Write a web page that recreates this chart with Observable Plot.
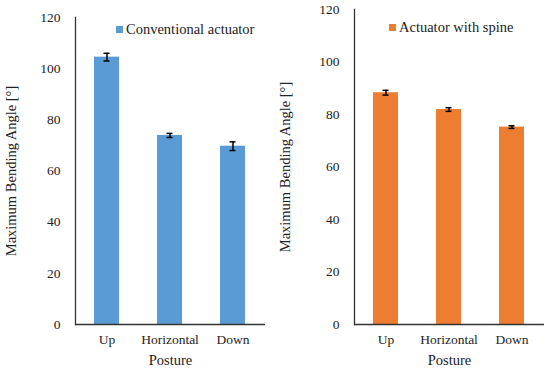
<!DOCTYPE html>
<html>
<head>
<meta charset="utf-8">
<script src="https://cdn.jsdelivr.net/npm/d3@7"></script>
<script src="https://cdn.jsdelivr.net/npm/@observablehq/plot@0.6"></script>
<style>
  body { margin: 0; background: #fff; }
  #wrap { position: relative; width: 550px; height: 370px; display: flex; font-family: "Liberation Serif", "Times New Roman", serif; }
  .panel { position: relative; width: 275px; height: 370px; }
  .panel svg, .panel svg text { font-family: "Liberation Serif", "Times New Roman", serif !important; }
  .legend { position: absolute; display: flex; align-items: center; font-size: 14.5px; color: #222; white-space: nowrap; }
  .legend .sw { display: inline-block; width: 7px; height: 7px; margin-right: 3px; }
</style>
</head>
<body>
<div id="wrap">
  <div class="panel" id="p1"></div>
  <div class="panel" id="p2"></div>
</div>
<script>
const postures = ["Up", "Horizontal", "Down"];
const conventionalMean = [104.5, 73.9, 69.7];
const conventionalErr = [1.5, 0.8, 1.7];
const spineMean = [88.3, 81.9, 75.2];
const spineErr = [0.9, 0.7, 0.5];
const seriesNames = ["Conventional actuator", "Actuator with spine"];
const seriesColors = ["#5B9BD5", "#ED7D31"];
const yTicks = [0, 20, 40, 60, 80, 100, 120];
const FONT = "Liberation Serif, Times New Roman, serif";

function panel(means, errs, color, opts) {
  const data = postures.map((p, i) => ({posture: p, value: means[i], lo: means[i] - errs[i], hi: means[i] + errs[i]}));
  return Plot.plot({
    width: 275,
    height: 370,
    marginLeft: opts.marginLeft,
    marginRight: opts.marginRight,
    marginTop: opts.marginTop,
    marginBottom: 46,
    style: {fontFamily: FONT, fontSize: "13px", color: "#222", background: "white"},
    x: {domain: postures, paddingInner: 0.6, paddingOuter: 0.3, label: null},
    y: {domain: [0, 120], label: null},
    marks: [
      Plot.axisX({tickSize: 0, tickPadding: 10, fontSize: 13.5, fontFamily: FONT, label: null}),
      Plot.axisX({ticks: [], tickSize: 0, fontSize: 14.5, fontFamily: FONT, label: "Posture", labelAnchor: "center", labelOffset: 40, labelArrow: "none"}),
      Plot.axisY({ticks: yTicks, tickSize: 0, tickPadding: 15, fontSize: 13.5, fontFamily: FONT, label: null}),
      Plot.axisY({ticks: [], tickSize: 0, fontSize: 14.5, fontFamily: FONT, label: "Maximum Bending Angle [°]", labelAnchor: "center", labelOffset: opts.labelOffset, labelArrow: "none"}),
      Plot.barY(data, {x: "posture", y: "value", fill: color}),
      Plot.ruleX(data, {x: "posture", y1: "lo", y2: "hi", stroke: "black", strokeWidth: 1.5}),
      Plot.tickY(data, {x: "posture", y: "lo", stroke: "black", strokeWidth: 1.5, insetLeft: 9.5, insetRight: 9.5}),
      Plot.tickY(data, {x: "posture", y: "hi", stroke: "black", strokeWidth: 1.5, insetLeft: 9.5, insetRight: 9.5}),
      Plot.frame({anchor: "left", stroke: "#333", strokeWidth: 1.3}),
      Plot.ruleY([0], {stroke: "#333", strokeWidth: 1.3})
    ]
  });
}

function legend(name, color, left, top) {
  const d = document.createElement("div");
  d.className = "legend";
  d.style.left = left + "px";
  d.style.top = top + "px";
  const sw = document.createElement("span");
  sw.className = "sw";
  sw.style.background = color;
  d.appendChild(sw);
  d.appendChild(document.createTextNode(name));
  return d;
}

const p1 = document.getElementById("p1");
p1.appendChild(panel(conventionalMean, conventionalErr, seriesColors[0], {marginLeft: 75, marginRight: 10, marginTop: 17, labelOffset: 70}));
p1.appendChild(legend(seriesNames[0], seriesColors[0], 116, 21));

const p2 = document.getElementById("p2");
p2.appendChild(panel(spineMean, spineErr, seriesColors[1], {marginLeft: 79, marginRight: 6, marginTop: 9, labelOffset: 75}));
p2.appendChild(legend(seriesNames[1], seriesColors[1], 114, 19));
</script>
</body>
</html>
